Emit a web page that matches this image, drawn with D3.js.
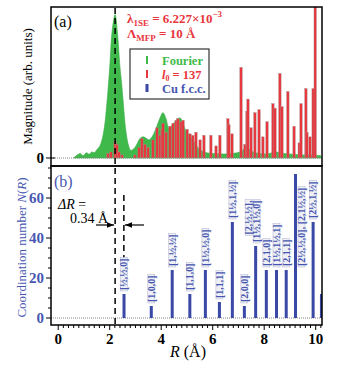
<!DOCTYPE html>
<html>
<head>
<meta charset="utf-8">
<script src="https://cdn.jsdelivr.net/npm/d3@7"></script>
<style>
    body { margin: 0; background: #fff; }
    text { font-family: "Liberation Serif", "DejaVu Serif", serif; }
</style>
</head>
<body>
<svg id="chart" width="340" height="370"></svg>
<script>
// Fourier magnitude, panel (a)
var fourierR = [0.6, 0.74, 0.86, 0.96, 1.1, 1.2, 1.3, 1.4, 1.5, 1.6, 1.7, 1.8, 1.9, 2.0, 2.1, 2.21, 2.3, 2.4, 2.46, 2.52,
    2.62, 2.72, 2.82, 2.98, 3.08, 3.18, 3.3, 3.42, 3.53, 3.68, 3.83, 3.94, 4.07, 4.19, 4.29, 4.39, 4.49, 4.64, 4.74, 4.84,
    4.99, 5.14, 5.24, 5.34, 5.5, 5.75, 6.05, 6.55, 7.06, 7.21, 7.31, 7.41, 7.57, 8.07, 8.47, 8.77, 8.98, 9.48, 9.88, 10.2];
var fourierMag = [0, 2, 3, 1.5, 3.5, 2.5, 4, 3.5, 5.5, 7.5, 12, 21, 38, 60, 85, 95, 83, 60, 50, 38,
    19, 9, 5, 7, 10, 13, 14, 13, 12, 15, 21, 26, 30, 26, 20, 21, 23, 26, 26.5, 23,
    17, 14, 12, 9, 5.5, 3.5, 3, 2.7, 4, 6, 8.5, 6, 4, 2.7, 4, 3, 2.7, 2, 2, 1.5];

// pair distances for l0 = 137, panel (a)
var pairR = [1.93, 2.05, 2.21, 2.28, 2.36, 2.48, 2.98, 3.14, 3.25, 3.37, 3.49, 3.68, 3.84, 3.95, 4.03, 4.07, 4.19, 4.34,
    4.46, 4.58, 4.65, 4.77, 4.85, 5.01, 5.12, 5.23, 5.35, 5.51, 5.66, 5.93, 6.13, 6.28, 6.59, 6.63, 6.75, 7.10, 7.25,
    7.33, 7.37, 7.49, 7.64, 7.80, 7.95, 8.11, 8.34, 8.42, 8.61, 8.69, 8.92, 9.16, 9.36, 9.43, 9.62, 9.66, 9.78, 9.90, 9.98];
var pairMag = [3, 4, 11, 9, 4, 2, 2, 7, 13, 9, 7, 12, 20, 15, 19, 23, 17, 21,
    23, 25, 26, 24, 25, 19, 16, 15, 17, 12, 15, 15, 8, 15, 26, 22, 16, 60, 9,
    31, 39, 20, 30, 32, 14, 24, 36, 33, 56, 34, 44, 21, 10, 36, 46, 17, 14, 46, 110];

// Cu f.c.c. neighbour shells, panel (b)
var shellR = [2.556, 3.615, 4.427, 5.112, 5.716, 6.261, 6.763, 7.230, 7.668, 8.083, 8.478, 8.855, 9.216, 9.900, 10.224];
var shellN = [12, 6, 24, 12, 24, 8, 48, 6, 36, 24, 24, 24, 72, 48, 12];
var shellLabel = [["[½,½,0]"], ["[1,0,0]"], ["[1,½,½]"], ["[1,1,0]"], ["[1½,½,0]"], ["[1,1,1]"], ["[1½,1,½]"],
    ["[2,0,0]"], ["[2,½,½],", "[1½,1½,0]"], ["[2,1,0]"], ["[1½,1½,1]"], ["[2,1,1]"], ["[2½,½,0], [2,1½,½]"],
    ["[2½,1,½]"], []];

var xTicks = [0, 2, 4, 6, 8, 10];
var nTicks = [0, 20, 40, 60];
var peakR = 2.21;
var deltaR = 0.34;

var RED = "#e8363d", GREEN = "#3fba4a", BLUE = "#3a48a6", BLUE_TXT = "#4656b0";

var svg = d3.select("#chart");
var left = 51, right = 322;
var x = d3.scaleLinear().domain([-0.28, 10.245]).range([left, right]);
var yA = d3.scaleLinear().domain([-5.3, 100]).range([166, 7]);
var yB = d3.scaleLinear().domain([-3.5, 76]).range([325, 166]);

svg.append("clipPath").attr("id", "clipA")
    .append("rect").attr("x", left).attr("y", 7).attr("width", right - left).attr("height", 159);
svg.append("clipPath").attr("id", "clipB")
    .append("rect").attr("x", left).attr("y", 166).attr("width", right - left).attr("height", 159);

/************************
 * panel (a)
 ************************/
var gA = svg.append("g").attr("clip-path", "url(#clipA)");

var area = d3.area()
    .x(function(d, i) { return x(fourierR[i]); })
    .y0(yA(0))
    .y1(function(d) { return yA(d); })
    .curve(d3.curveCatmullRom);
gA.append("path")
    .datum(fourierMag)
    .attr("d", area)
    .attr("fill", GREEN)
    .attr("stroke", "#36a842")
    .attr("stroke-width", 0.6);

gA.selectAll("rect.pair")
    .data(pairMag)
    .enter()
    .append("rect")
    .attr("class", "pair")
    .attr("x", function(d, i) { return x(pairR[i]) - 1.2; })
    .attr("y", function(d) { return yA(d); })
    .attr("width", 2.4)
    .attr("height", function(d) { return yA(0) - yA(d); })
    .attr("fill", RED)
    .attr("stroke", "#a88")
    .attr("stroke-width", 0.4);

gA.append("line")
    .attr("x1", left).attr("x2", right)
    .attr("y1", yA(0)).attr("y2", yA(0))
    .attr("stroke", "#888").attr("stroke-width", 1.2).attr("stroke-dasharray", "1,1");

svg.append("rect")
    .attr("x", left).attr("y", 7).attr("width", right - left).attr("height", 159)
    .attr("fill", "none").attr("stroke", "#000").attr("stroke-width", 1.5);

// zero tick on the magnitude axis
svg.append("line")
    .attr("x1", left - 5).attr("x2", left + 4)
    .attr("y1", yA(0)).attr("y2", yA(0))
    .attr("stroke", "#000").attr("stroke-width", 1);
svg.append("text")
    .attr("x", left - 7).attr("y", yA(0) + 5)
    .attr("text-anchor", "end")
    .attr("font-size", 15).attr("font-weight", "bold")
    .text("0");

svg.append("text")
    .attr("x", 54).attr("y", 27)
    .attr("font-size", 16)
    .text("(a)");

svg.append("text")
    .attr("transform", "translate(32," + ((7 + 166) / 2) + ") rotate(-90)")
    .attr("text-anchor", "middle")
    .attr("font-size", 13)
    .text("Magnitude (arb. units)");

// fit parameters
var ann = svg.append("g").attr("fill", RED).attr("font-weight", "bold").attr("font-size", 13);
var t1 = ann.append("text").attr("x", 127).attr("y", 23);
t1.append("tspan").text("λ");
t1.append("tspan").attr("font-size", 9).attr("dy", 3).text("1SE");
t1.append("tspan").attr("dy", -3).text(" = 6.227×10");
t1.append("tspan").attr("font-size", 9).attr("dy", -6).text("−3");
var t2 = ann.append("text").attr("x", 127).attr("y", 38);
t2.append("tspan").text("Λ");
t2.append("tspan").attr("font-size", 9).attr("dy", 3).text("MFP");
t2.append("tspan").attr("dy", -3).text(" = 10 Å");

// legend
var legend = svg.append("g");
legend.append("rect")
    .attr("x", 130).attr("y", 49).attr("width", 79).attr("height", 50)
    .attr("fill", "#fff").attr("stroke", "#333").attr("stroke-width", 1.2);
var legendItems = [
    {color: GREEN, w: 2},
    {color: RED, w: 2},
    {color: BLUE, w: 3}
];
legendItems.forEach(function(d, i) {
    var cy = 60 + i * 14;
    legend.append("rect")
        .attr("x", 147 - d.w / 2).attr("y", cy - 4)
        .attr("width", d.w).attr("height", 8)
        .attr("fill", d.color);
});
legend.append("text").attr("x", 162).attr("y", 64.5).attr("fill", GREEN)
    .attr("font-size", 12.5).attr("font-weight", "bold").text("Fourier");
var lt = legend.append("text").attr("x", 162).attr("y", 78.5).attr("fill", RED)
    .attr("font-size", 12.5).attr("font-weight", "bold");
lt.append("tspan").attr("font-style", "italic").text("l");
lt.append("tspan").attr("font-size", 8).attr("dy", 2).text("0");
lt.append("tspan").attr("dy", -2).text(" = 137");
legend.append("text").attr("x", 162).attr("y", 92.5).attr("fill", BLUE_TXT)
    .attr("font-size", 12.5).attr("font-weight", "bold").text("Cu f.c.c.");

/************************
 * panel (b)
 ************************/
var gB = svg.append("g").attr("clip-path", "url(#clipB)");

gB.append("line")
    .attr("x1", left).attr("x2", right)
    .attr("y1", yB(0)).attr("y2", yB(0))
    .attr("stroke", "#888").attr("stroke-width", 1.2).attr("stroke-dasharray", "1,1");

// marker of the shifted first shell
gB.append("line")
    .attr("x1", x(peakR + deltaR)).attr("x2", x(peakR + deltaR))
    .attr("y1", 195).attr("y2", yB(shellN[0]))
    .attr("stroke", "#000").attr("stroke-width", 1.5).attr("stroke-dasharray", "6,4");

gB.selectAll("rect.shell")
    .data(shellN)
    .enter()
    .append("rect")
    .attr("class", "shell")
    .attr("x", function(d, i) { return x(shellR[i]) - 1.5; })
    .attr("y", function(d) { return yB(d); })
    .attr("width", 3)
    .attr("height", function(d) { return yB(0) - yB(d); })
    .attr("fill", BLUE);

// shell labels, rotated above each bar
shellLabel.forEach(function(lines, i) {
    if (!lines.length) return;
    var bx = x(shellR[i]);
    var side = shellN[i] > 60;
    var g = gB.append("g");
    var texts = lines.map(function(s) {
        return g.append("text")
            .attr("font-size", 10).attr("font-weight", "bold")
            .attr("fill", BLUE_TXT)
            .text(s);
    });
    var lens = texts.map(function(t) { return t.node().getComputedTextLength(); });
    var maxLen = d3.max(lens);
    var base = side ? yB(26) : yB(shellN[i]) - 4;
    var top = base - maxLen;
    texts.forEach(function(t, j) {
        var cx = side ? bx + 6 : bx - (lines.length - 1 - j) * 8;
        if (lines.length > 1 && !side) cx += 1;
        t.attr("text-anchor", "end")
            .attr("dy", "0.33em")
            .attr("transform", "translate(" + cx + "," + top + ") rotate(-90)");
        g.insert("rect", "text")
            .attr("x", cx - 3.5).attr("y", top - 1)
            .attr("width", 7).attr("height", lens[j] + 2)
            .attr("fill", "#eef0f6").attr("stroke", "#b0b5d2").attr("stroke-width", 0.5);
    });
});

svg.append("rect")
    .attr("x", left).attr("y", 166).attr("width", right - left).attr("height", 159)
    .attr("fill", "none").attr("stroke", "#000").attr("stroke-width", 1.5);

// dashed line through both panels at the Fourier peak
svg.append("line")
    .attr("x1", x(peakR)).attr("x2", x(peakR))
    .attr("y1", 8).attr("y2", 324)
    .attr("stroke", "#000").attr("stroke-width", 1.5).attr("stroke-dasharray", "6,4");

// bottom axis
var xAxis = svg.append("g").attr("transform", "translate(0,325)");
xAxis.selectAll("line.minor")
    .data(d3.range(0, 10.25, 0.2))
    .enter().append("line")
    .attr("x1", function(d) { return x(d); }).attr("x2", function(d) { return x(d); })
    .attr("y1", 0).attr("y2", function(d) { return Math.abs(d / 2 - Math.round(d / 2)) < 1e-6 ? 5 : 3; })
    .attr("stroke", "#000").attr("stroke-width", 1);
xAxis.selectAll("text")
    .data(xTicks)
    .enter().append("text")
    .attr("x", function(d) { return x(d); })
    .attr("y", 19)
    .attr("text-anchor", "middle")
    .attr("font-size", 15).attr("font-weight", "bold")
    .text(function(d) { return d; });
var xl = svg.append("text").attr("x", 188).attr("y", 357)
    .attr("text-anchor", "middle").attr("font-size", 16);
xl.append("tspan").attr("font-style", "italic").text("R");
xl.append("tspan").text(" (Å)");

// coordination number axis
var nAxis = svg.append("g").attr("transform", "translate(" + left + ",0)");
nAxis.selectAll("line.minor")
    .data(d3.range(0, 76, 5))
    .enter().append("line")
    .attr("x1", function(d) { return d % 20 === 0 ? -5 : -3; }).attr("x2", 0)
    .attr("y1", function(d) { return yB(d); }).attr("y2", function(d) { return yB(d); })
    .attr("stroke", "#000").attr("stroke-width", 1);
nAxis.selectAll("text")
    .data(nTicks)
    .enter().append("text")
    .attr("x", -7)
    .attr("y", function(d) { return yB(d) + 5; })
    .attr("text-anchor", "end")
    .attr("font-size", 15).attr("font-weight", "bold")
    .attr("fill", BLUE_TXT)
    .text(function(d) { return d; });

svg.append("text")
    .attr("x", 54).attr("y", 187)
    .attr("font-size", 16).attr("fill", BLUE_TXT)
    .text("(b)");

var nl = svg.append("text")
    .attr("transform", "translate(26," + ((166 + 325) / 2 + 2) + ") rotate(-90)")
    .attr("text-anchor", "middle")
    .attr("font-size", 13).attr("fill", BLUE_TXT);
nl.append("tspan").text("Coordination number ");
nl.append("tspan").attr("font-style", "italic").text("N");
nl.append("tspan").text("(");
nl.append("tspan").attr("font-style", "italic").text("R");
nl.append("tspan").text(")");

// shift between the peak and the first shell
var dr = svg.append("text").attr("x", 58).attr("y", 209).attr("font-size", 14);
dr.append("tspan").attr("font-style", "italic").text("ΔR");
dr.append("tspan").text(" =");
svg.append("text").attr("x", 70).attr("y", 223).attr("font-size", 14).text("0.34 Å");

svg.append("defs").append("marker")
    .attr("id", "arrow")
    .attr("viewBox", "0 0 10 10")
    .attr("refX", 10).attr("refY", 5)
    .attr("markerWidth", 6).attr("markerHeight", 6)
    .attr("orient", "auto")
    .append("path").attr("d", "M0,1L10,5L0,9Z").attr("fill", "#000");
svg.append("line")
    .attr("x1", 96).attr("x2", x(peakR) - 1)
    .attr("y1", 225).attr("y2", 225)
    .attr("stroke", "#000").attr("stroke-width", 1.2).attr("marker-end", "url(#arrow)");
svg.append("line")
    .attr("x1", 144).attr("x2", x(peakR + deltaR) + 1)
    .attr("y1", 225).attr("y2", 225)
    .attr("stroke", "#000").attr("stroke-width", 1.2).attr("marker-end", "url(#arrow)");
</script>
</body>
</html>
